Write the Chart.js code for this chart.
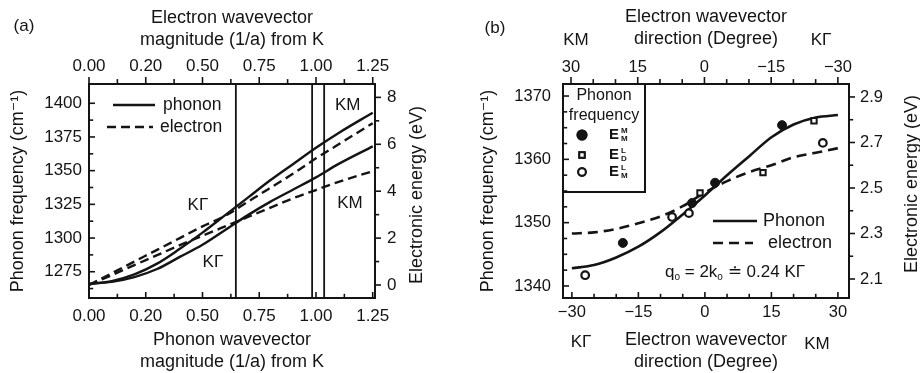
<!DOCTYPE html>
<html>
<head>
<meta charset="utf-8">
<script src="https://cdn.jsdelivr.net/npm/chart.js@4.4.1/dist/chart.umd.min.js"></script>
<style>
  body { margin: 0; background: #fff; }
  .panel { position: absolute; top: 0; width: 460px; height: 373px; }
  #panelA { left: 0; }
  #panelB { left: 460px; }
</style>
</head>
<body>
<div class="panel" id="panelA"><canvas id="chartA" width="460" height="373"></canvas></div>
<div class="panel" id="panelB"><canvas id="chartB" width="460" height="373"></canvas></div>
<script>
// --- (a) dispersion vs wavevector magnitude from K ---
const qValues       = [0, 0.1, 0.2, 0.3, 0.4, 0.5, 0.6, 0.7, 0.8, 0.9, 1.0, 1.1, 1.25];
const phononUpper   = [1266, 1268, 1273, 1281, 1292, 1304, 1317, 1330, 1343, 1355, 1367, 1378, 1393];
const phononLower   = [1266, 1267.5, 1271, 1277, 1286, 1295, 1306, 1317, 1327, 1336, 1345, 1355, 1368];
const electronUpper = [0, 0.5, 1.0, 1.5, 2.0, 2.5, 2.95, 3.55, 4.15, 4.75, 5.4, 6.0, 6.9];
const electronLower = [0, 0.42, 0.85, 1.27, 1.7, 2.1, 2.5, 2.9, 3.3, 3.7, 4.05, 4.4, 4.85];
const cutLines      = [0.647, 0.983, 1.036];

const qTicks        = [0, 0.25, 0.5, 0.75, 1.0, 1.25];
const qTickLabels   = ['0.00', '0.20', '0.50', '0.75', '1.00', '1.25'];
const qMinor        = [0.125, 0.375, 0.625, 0.875, 1.125];
const freqTicksA    = [1275, 1300, 1325, 1350, 1375, 1400];
const freqMinorA    = [1262.5, 1287.5, 1312.5, 1337.5, 1362.5, 1387.5];
const energyTicksA  = [0, 2, 4, 6, 8];
const energyMinorA  = [1, 3, 5, 7];

// --- (b) dispersion vs wavevector direction ---
const angles        = [-30, -25, -20, -15, -10, -5, 0, 5, 10, 15, 20, 25, 30];
const phononAngle   = [1342.8, 1343.3, 1344.5, 1346.2, 1348.5, 1351.3, 1354.3, 1357.5, 1360.5, 1363.5, 1365.5, 1366.6, 1367.0];
const electronAngle = [2.30, 2.305, 2.32, 2.345, 2.375, 2.42, 2.48, 2.53, 2.57, 2.60, 2.635, 2.655, 2.675];

const emmAngle = [-18.5, -2.9, 2.3, 17.4];
const emmFreq  = [1346.8, 1353.1, 1356.3, 1365.4];
const eldAngle = [-1.1, 13.1, 24.6];
const eldFreq  = [1354.7, 1357.9, 1366.1];
const elmAngle = [-27, -7.4, -3.6, 26.6];
const elmFreq  = [1341.7, 1350.9, 1351.5, 1362.6];

const angleTicks    = [-30, -15, 0, 15, 30];
const angleMinor    = [-25, -20, -10, -5, 5, 10, 20, 25];
const freqTicksB    = [1340, 1350, 1360, 1370];
const freqMinorB    = [1342.5, 1345, 1347.5, 1352.5, 1355, 1357.5, 1362.5, 1365, 1367.5];
const energyTicksB  = [2.1, 2.3, 2.5, 2.7, 2.9];
const energyMinorB  = [2.2, 2.4, 2.6, 2.8];

const ink = '#141414';
const family = "'Liberation Sans', Arial, Helvetica, 'DejaVu Sans', sans-serif";
const titleFont = { family, size: 18, lineHeight: 1.22 };

const pts = (xs, ys) => xs.map((x, i) => ({ x, y: ys[i] }));

function scaleFor(position, min, max, ticks, labels, size, pad, fontSize, extra) {
  return Object.assign({
    type: 'linear', position, min, max,
    grid: { display: false, drawTicks: false },
    border: { display: true, color: ink, width: 2 },
    afterBuildTicks: s => { s.ticks = ticks.map(v => ({ value: v })); },
    afterFit: s => { if (s.isHorizontal()) s.height = size; else s.width = size; },
    ticks: {
      color: ink, padding: pad, autoSkip: false, maxRotation: 0,
      font: { family, size: fontSize, lineHeight: 1.2 },
      callback: v => labels[ticks.indexOf(v)] ?? ''
    }
  }, extra || {});
}

function axisTitle(text, padding) {
  return { display: true, text, color: ink, font: titleFont, padding };
}

function line(ctx, x1, y1, x2, y2) {
  ctx.beginPath(); ctx.moveTo(x1, y1); ctx.lineTo(x2, y2); ctx.stroke();
}

function label(ctx, str, x, y, size, align) {
  ctx.font = size + 'px ' + family;
  ctx.textAlign = align || 'center';
  ctx.textBaseline = 'middle';
  ctx.fillText(str, x, y);
}

// text pieces with optional subscripts, drawn left to right
function runs(ctx, parts, x, y, size) {
  parts.forEach(([s, sub]) => {
    const fs = sub ? Math.round(size * 0.6) : size;
    ctx.font = fs + 'px ' + family;
    ctx.textAlign = 'left';
    ctx.textBaseline = 'middle';
    ctx.fillText(s, x, y + (sub ? size * 0.3 : 0));
    x += ctx.measureText(s).width;
  });
}

function verticalTitle(ctx, str, x, y) {
  ctx.save();
  ctx.translate(x, y);
  ctx.rotate(-Math.PI / 2);
  ctx.font = titleFont.size + 'px ' + family;
  ctx.textAlign = 'center';
  ctx.textBaseline = 'middle';
  ctx.fillText(str, 0, 0);
  ctx.restore();
}

function legendSample(ctx, ds, x1, x2, y) {
  ctx.save();
  ctx.lineWidth = ds.borderWidth;
  ctx.setLineDash(ds.borderDash || []);
  line(ctx, x1, y, x2, y);
  ctx.restore();
}

// inward/outward tick marks along the frame
const tickMarks = {
  id: 'tickMarks',
  afterDraw(chart, args, opts) {
    const { ctx, chartArea: a } = chart;
    ctx.save();
    ctx.strokeStyle = ink;
    ctx.lineWidth = 1.6;
    opts.axes.forEach(t => {
      const s = chart.scales[t.id];
      const out = (s.position === 'top' || s.position === 'left') ? -1 : 1;
      const dir = t.inward ? -out : out;
      const mark = (v, len) => {
        const p = s.getPixelForValue(v);
        if (s.isHorizontal()) {
          const e = s.position === 'top' ? a.top : a.bottom;
          line(ctx, p, e, p, e + dir * len);
        } else {
          const e = s.position === 'left' ? a.left : a.right;
          line(ctx, e, p, e + dir * len, p);
        }
      };
      t.major.forEach(v => mark(v, t.len));
      t.minor.forEach(v => mark(v, t.len * 0.7));
    });
    ctx.restore();
  }
};

const lineStyle = { borderColor: ink, pointRadius: 0, fill: false, cubicInterpolationMode: 'monotone', order: 1 };

// ---------------- panel (a) ----------------
const panelADecor = {
  id: 'panelADecor',
  afterDraw(chart) {
    const { ctx, chartArea: a, scales } = chart;
    const sx = scales.x, sy = scales.y;
    const ds = chart.data.datasets;
    ctx.save();
    ctx.strokeStyle = ink;
    ctx.fillStyle = ink;
    ctx.lineWidth = 1.8;
    cutLines.forEach(q => {
      const p = sx.getPixelForValue(q);
      line(ctx, p, a.top, p, a.bottom);
    });
    // branch directions
    [['KΓ', 0.48, 1324.5], ['KΓ', 0.546, 1282.2], ['KM', 1.14, 1398.7], ['KM', 1.15, 1326]]
      .forEach(([t, q, f]) => label(ctx, t, sx.getPixelForValue(q), sy.getPixelForValue(f), 17));
    // legend
    legendSample(ctx, ds[0], a.left + 24, a.left + 66, a.top + 21);
    label(ctx, ds[0].label, a.left + 74, a.top + 21, 17.5, 'left');
    legendSample(ctx, ds[2], a.left + 18, a.left + 64, a.top + 43);
    label(ctx, ds[2].label, a.left + 71, a.top + 43, 17.5, 'left');
    verticalTitle(ctx, 'Electronic energy (eV)', a.right + 42, 195);
    label(ctx, '(a)', 24, 26, 17);
    ctx.restore();
  }
};

new Chart(document.getElementById('chartA'), {
  type: 'line',
  data: {
    datasets: [
      { ...lineStyle, label: 'phonon', data: pts(qValues, phononUpper), xAxisID: 'x', yAxisID: 'y', borderWidth: 2.4 },
      { ...lineStyle, label: 'phonon', data: pts(qValues, phononLower), xAxisID: 'x', yAxisID: 'y', borderWidth: 2.4 },
      { ...lineStyle, label: 'electron', data: pts(qValues, electronUpper), xAxisID: 'x2', yAxisID: 'y2', borderWidth: 2.4, borderDash: [9, 5] },
      { ...lineStyle, label: 'electron', data: pts(qValues, electronLower), xAxisID: 'x2', yAxisID: 'y2', borderWidth: 2.4, borderDash: [9, 5] }
    ]
  },
  options: {
    responsive: false, animation: false, events: [], devicePixelRatio: 1,
    layout: { padding: 0 },
    plugins: {
      legend: { display: false },
      tooltip: { enabled: false },
      tickMarks: {
        axes: [
          { id: 'x', major: qTicks, minor: qMinor, len: 6, inward: true },
          { id: 'x2', major: qTicks, minor: qMinor, len: 7, inward: false },
          { id: 'y', major: freqTicksA, minor: freqMinorA, len: 6, inward: true },
          { id: 'y2', major: energyTicksA, minor: energyMinorA, len: 6, inward: false }
        ]
      }
    },
    scales: {
      x: scaleFor('bottom', 0, 1.26, qTicks, qTickLabels, 75, 8.5, 17,
        { title: axisTitle(['Phonon wavevector', 'magnitude (1/a) from K'], { top: 0, bottom: 0 }) }),
      x2: scaleFor('top', 0, 1.26, qTicks, qTickLabels, 84, 7, 17,
        { title: axisTitle(['Electron wavevector', 'magnitude (1/a) from K'], { top: 7, bottom: 0 }) }),
      y: scaleFor('left', 1255.5, 1414.3, freqTicksA, freqTicksA.map(String), 89, 7, 17,
        { title: axisTitle('Phonon frequency (cm⁻¹)', { top: 7, bottom: 0 }) }),
      y2: scaleFor('right', -0.554, 8.57, energyTicksA, energyTicksA.map(String), 85, 12, 17)
    }
  },
  plugins: [tickMarks, panelADecor]
});

// ---------------- panel (b) ----------------
const panelBDecor = {
  id: 'panelBDecor',
  afterDraw(chart) {
    const { ctx, chartArea: a } = chart;
    const ds = chart.data.datasets;
    ctx.save();
    ctx.strokeStyle = ink;
    ctx.fillStyle = ink;

    // marker key box
    ctx.lineWidth = 2;
    ctx.strokeRect(a.left, a.top, 82, 108);
    label(ctx, 'Phonon', a.left + 41, a.top + 12, 16);
    label(ctx, 'frequency', a.left + 41, a.top + 32, 16);
    [[ds[2], 51], [ds[3], 71], [ds[4], 88]].forEach(([d, dy]) => {
      Chart.helpers.drawPoint(ctx, {
        pointStyle: d.pointStyle, radius: d.pointRadius, borderWidth: d.borderWidth, rotation: 0
      }, a.left + 19, a.top + dy);
      ctx.fillStyle = d.backgroundColor;
      ctx.fill();
      ctx.stroke();
      ctx.fillStyle = ink;
      ctx.font = 'bold 15px ' + family;
      ctx.textAlign = 'left';
      ctx.textBaseline = 'middle';
      ctx.fillText(d.label, a.left + 46, a.top + dy);
      ctx.font = 'bold 8px ' + family;
      ctx.fillText(d.sup, a.left + 58, a.top + dy - 4);
      ctx.fillText(d.sub, a.left + 58, a.top + dy + 4);
    });

    // line key
    legendSample(ctx, ds[0], a.left + 150, a.left + 194, a.top + 137);
    label(ctx, ds[0].label, a.left + 200, a.top + 137, 18, 'left');
    legendSample(ctx, ds[1], a.left + 150, a.left + 190, a.top + 159);
    label(ctx, ds[1].label, a.left + 205, a.top + 159, 18, 'left');
    runs(ctx, [['q'], ['o', true], [' = 2k'], ['o', true], [' ≐ 0.24 KΓ']], a.left + 102, a.top + 188, 17);

    // direction names beside the axis titles
    label(ctx, 'KM', a.left + 13, 40, 17);
    label(ctx, 'KΓ', a.left + 258, 40, 17);
    label(ctx, 'KΓ', a.left + 18, 342, 17);
    label(ctx, 'KM', a.left + 254, 344, 17);

    verticalTitle(ctx, 'Electronic energy (eV)', a.right + 63, 184);
    label(ctx, '(b)', 35, 28, 17);
    ctx.restore();
  }
};

new Chart(document.getElementById('chartB'), {
  type: 'line',
  data: {
    datasets: [
      { ...lineStyle, label: 'Phonon', data: pts(angles, phononAngle), xAxisID: 'x', yAxisID: 'y', borderWidth: 2.6 },
      { ...lineStyle, label: 'electron', data: pts(angles, electronAngle), xAxisID: 'x', yAxisID: 'y2', borderWidth: 2.6, borderDash: [10, 6] },
      { label: 'E', sup: 'M', sub: 'M', data: pts(emmAngle, emmFreq), xAxisID: 'x', yAxisID: 'y', showLine: false, order: 0,
        pointStyle: 'circle', pointRadius: 4.5, borderWidth: 1, borderColor: ink, backgroundColor: ink },
      { label: 'E', sup: 'L', sub: 'D', data: pts(eldAngle, eldFreq), xAxisID: 'x', yAxisID: 'y', showLine: false, order: 0,
        pointStyle: 'rect', pointRadius: 3.8, borderWidth: 2, borderColor: ink, backgroundColor: '#fff' },
      { label: 'E', sup: 'L', sub: 'M', data: pts(elmAngle, elmFreq), xAxisID: 'x', yAxisID: 'y', showLine: false, order: 0,
        pointStyle: 'circle', pointRadius: 3.8, borderWidth: 2.2, borderColor: ink, backgroundColor: '#fff' }
    ]
  },
  options: {
    responsive: false, animation: false, events: [], devicePixelRatio: 1,
    layout: { padding: 0 },
    plugins: {
      legend: { display: false },
      tooltip: { enabled: false },
      tickMarks: {
        axes: [
          { id: 'x', major: angleTicks, minor: angleMinor, len: 6, inward: true },
          { id: 'x2', major: angleTicks, minor: angleMinor, len: 7, inward: false },
          { id: 'y', major: freqTicksB, minor: freqMinorB, len: 6, inward: true },
          { id: 'y2', major: energyTicksB, minor: energyMinorB, len: 6, inward: false }
        ]
      }
    },
    scales: {
      x: scaleFor('bottom', -32, 32.5, angleTicks, angleTicks.map(v => String(v).replace('-', '−')), 75, 5, 16.5,
        { title: axisTitle(['Electron wavevector', 'direction (Degree)'], { top: 0, bottom: 0 }) }),
      x2: scaleFor('top', -32.5, 31.8, angleTicks, angleTicks.map(v => String(v).replace('-', '−')), 84, 7, 16.5,
        { reverse: true, title: axisTitle(['Electron wavevector', 'direction (Degree)'], { top: 6, bottom: 0 }) }),
      y: scaleFor('left', 1338.1, 1371.9, freqTicksB, freqTicksB.map(String), 103, 12, 16.5,
        { title: axisTitle('Phonon frequency (cm⁻¹)', { top: 17, bottom: 0 }) }),
      y2: scaleFor('right', 2.0165, 2.957, energyTicksB, energyTicksB.map(v => v.toFixed(1)), 71, 11, 16.5)
    }
  },
  plugins: [tickMarks, panelBDecor]
});
</script>
</body>
</html>
